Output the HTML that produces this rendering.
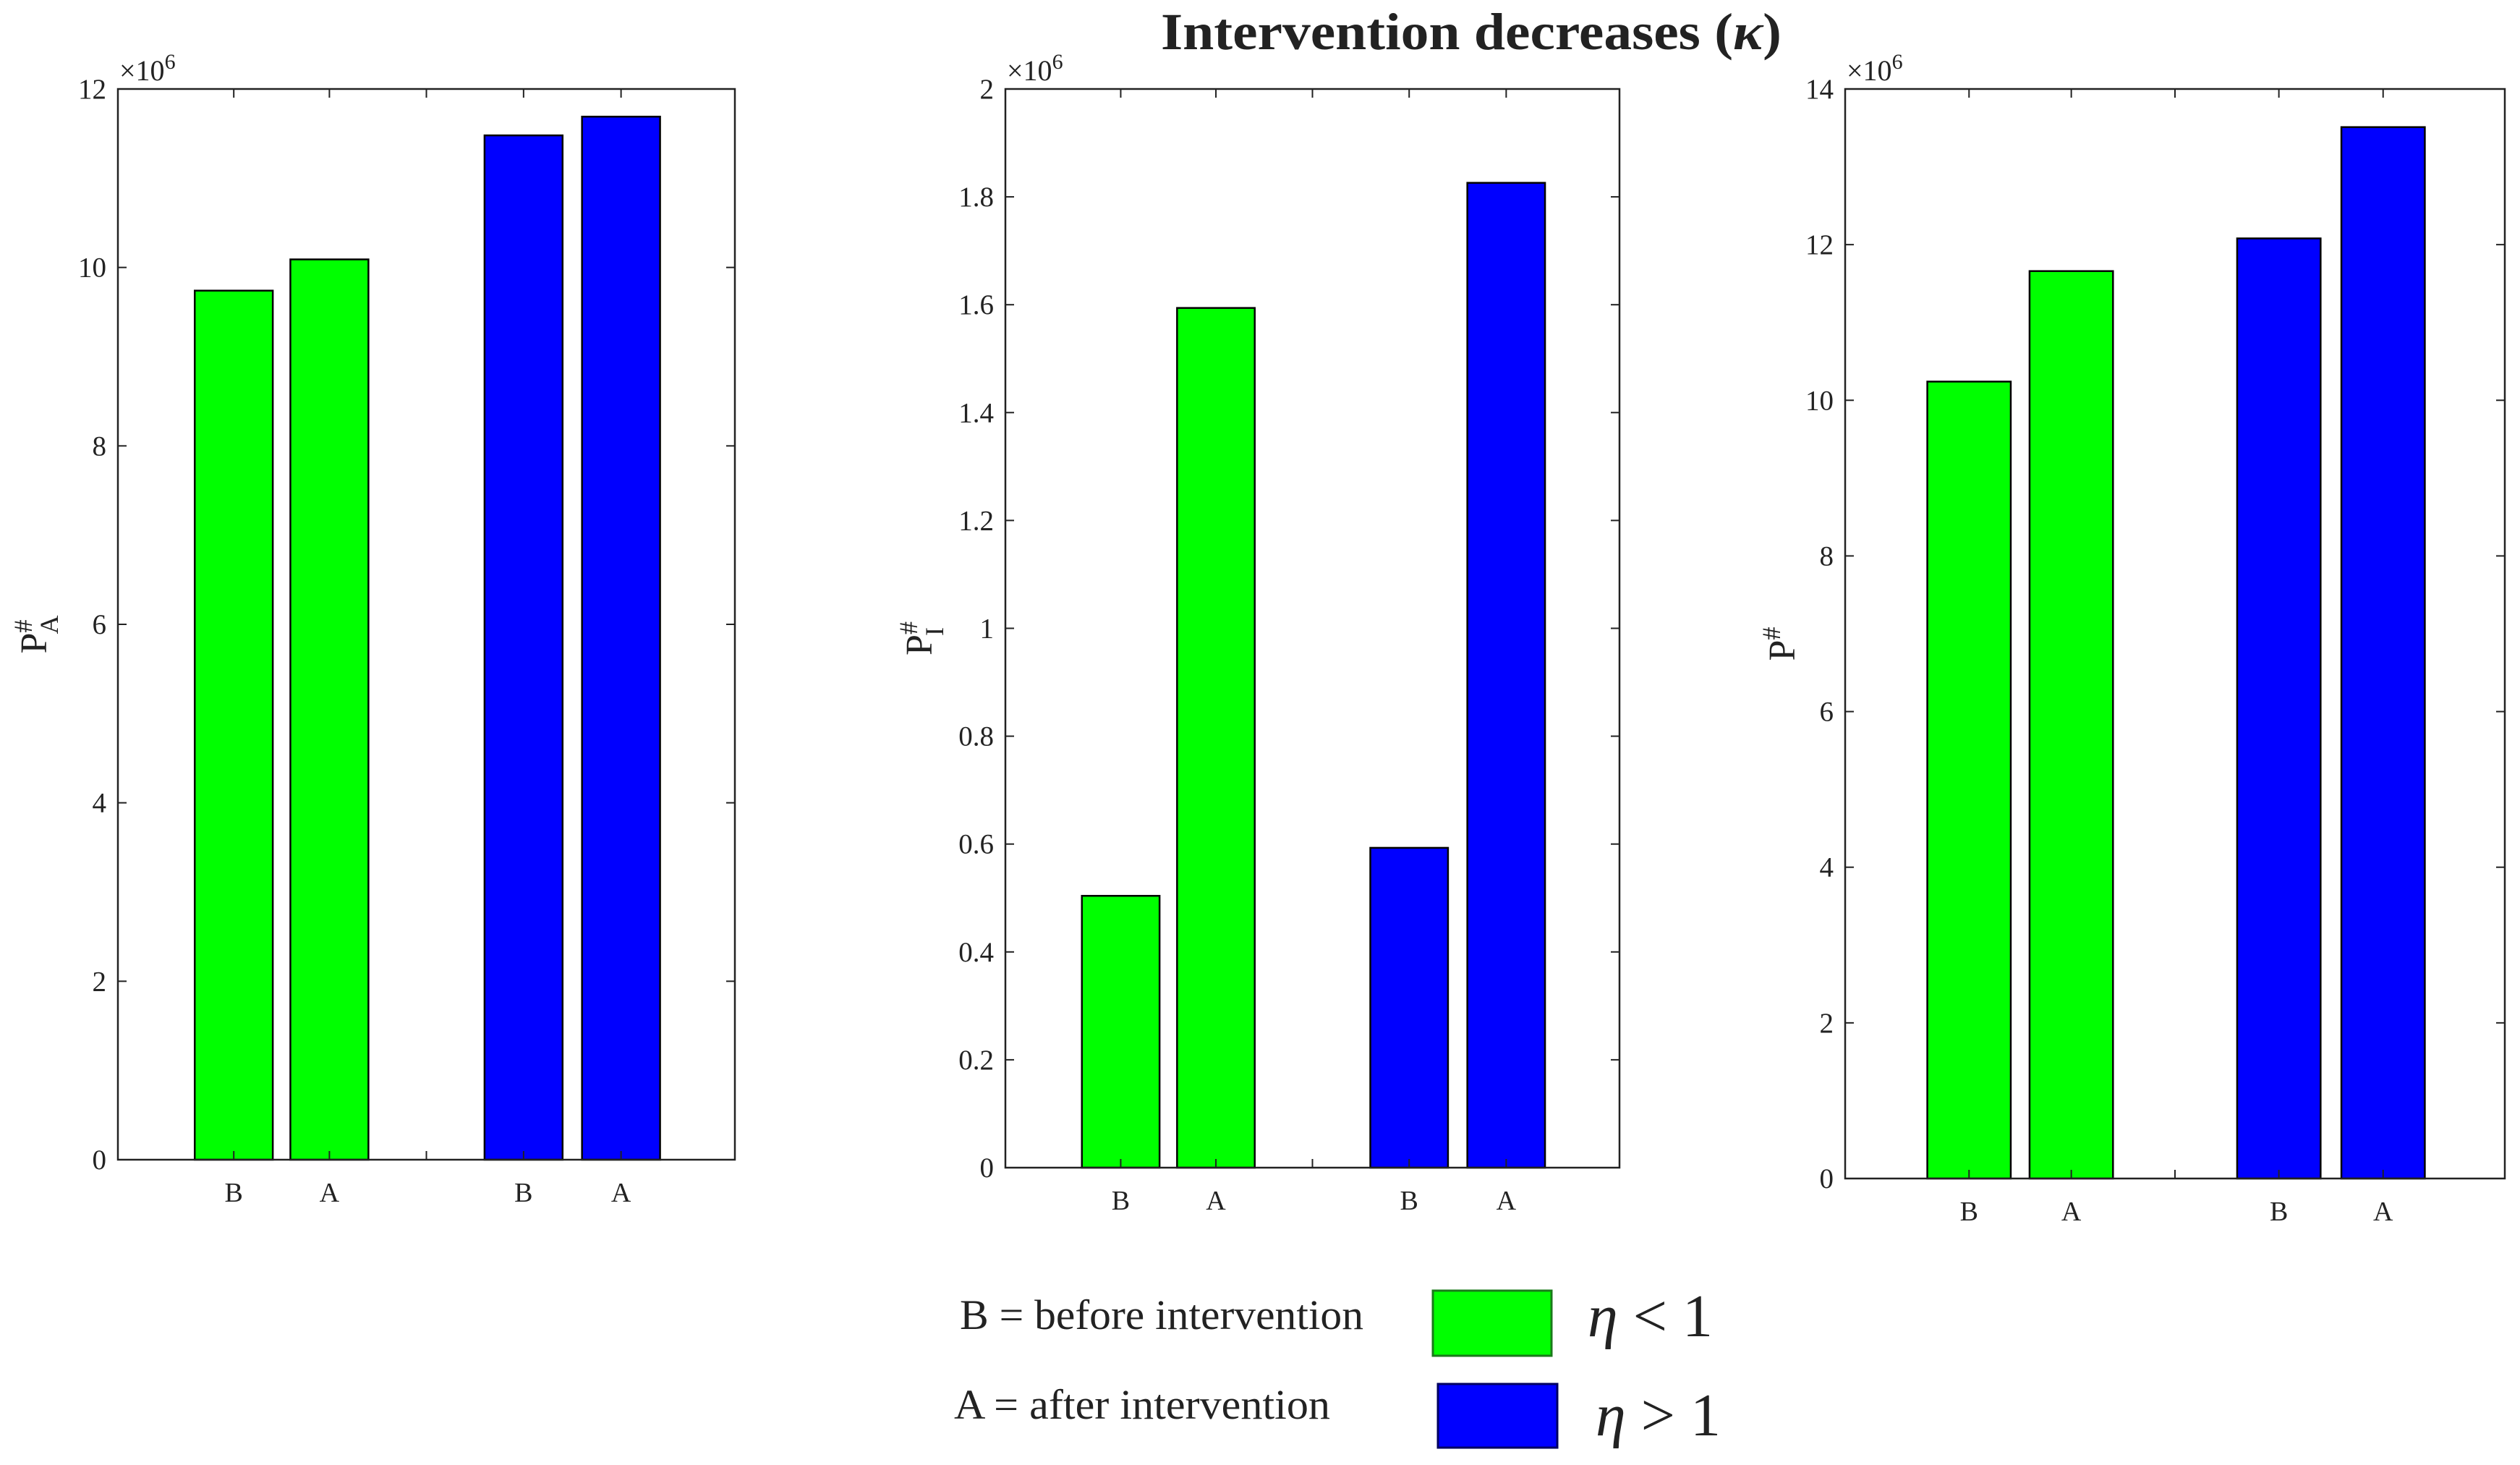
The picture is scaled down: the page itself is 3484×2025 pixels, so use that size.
<!DOCTYPE html>
<html><head><meta charset="utf-8"><style>
html,body{margin:0;padding:0;background:#fff;}
svg{display:block;}
text{font-family:"Liberation Serif",serif;fill:#222;}
</style></head><body>
<svg id="chart" width="3484" height="2025" viewBox="0 0 3484 2025" xmlns="http://www.w3.org/2000/svg">
<text x="1605" y="68" font-size="72" font-weight="bold" fill="#000" textLength="858" lengthAdjust="spacingAndGlyphs">Intervention decreases (<tspan font-style="italic">κ</tspan>)</text>
<g id="panels"></g>
<g>
<text x="1327" y="1837" font-size="58" fill="#000" textLength="558" lengthAdjust="spacingAndGlyphs">B = before intervention</text>
<text x="1319" y="1961" font-size="58" fill="#000" textLength="520" lengthAdjust="spacingAndGlyphs">A = after intervention</text>
<rect x="1981" y="1784" width="164" height="90" fill="#00ff00" stroke="#1a7a1a" stroke-width="3"/>
<rect x="1988" y="1913" width="165" height="88" fill="#0000ff" stroke="#000060" stroke-width="3"/>
<text x="2195" y="1847" font-size="84" fill="#000"><tspan font-style="italic">η</tspan> &lt; 1</text>
<text x="2206" y="1984" font-size="84" fill="#000"><tspan font-style="italic">η</tspan> &gt; 1</text>
</g>
</svg>
<script>
const categories = ["B","A","B","A"];
const p1Values = [9.74, 10.09, 11.48, 11.69];
const p2Values = [0.504, 1.594, 0.593, 1.826];
const p3Values = [10.24, 11.66, 12.08, 13.51];
const p1Ticks = [0,2,4,6,8,10,12];
const p2Ticks = [0,0.2,0.4,0.6,0.8,1,1.2,1.4,1.6,1.8,2];
const p3Ticks = [0,2,4,6,8,10,12,14];
const p2TickLabels = ["0","0.2","0.4","0.6","0.8","1","1.2","1.4","1.6","1.8","2"];
const barColors = ["#00ff00","#00ff00","#0000ff","#0000ff"];

const NS = "http://www.w3.org/2000/svg";
function mk(tag, attrs, parent){const e=document.createElementNS(NS,tag);for(const k in attrs)e.setAttribute(k,attrs[k]);parent.appendChild(e);return e;}
const slotFrac=[0.1878,0.3428,0.6575,0.8155];
const panelsG=document.getElementById('panels');
const panels=[
 {name:'panel-pa',l:163,r:1016,t:123,b:1603,max:12,ticks:p1Ticks,labels:p1Ticks.map(String),vals:p1Values,ylab:'P',sub:'A',ylx:38},
 {name:'panel-pi',l:1390,r:2239,t:123,b:1614,max:2,ticks:p2Ticks,labels:p2TickLabels,vals:p2Values,ylab:'P',sub:'I',ylx:1262},
 {name:'panel-p',l:2551,r:3463,t:123,b:1629,max:14,ticks:p3Ticks,labels:p3Ticks.map(String),vals:p3Values,ylab:'P',sub:'',ylx:2455}
];
panels.forEach(p=>{
 const g=mk('g',{},panelsG);
 
 
 const W=p.r-p.l;
 const y=v=>p.b-(v/p.max)*(p.b-p.t);
 const x=f=>p.l+f*W;
 const bw=0.1265*W;
 p.vals.forEach((v,i)=>{
  const r=mk('rect',{x:x(slotFrac[i])-bw/2,y:y(v),width:bw,height:y(0)-y(v),fill:barColors[i],stroke:'#000','stroke-width':2.5},g);
  
  
 });
 mk('rect',{x:p.l,y:p.t,width:W,height:p.b-p.t,fill:'none',stroke:'#222','stroke-width':2.5},g);
 p.ticks.forEach((t,i)=>{
  const yy=y(t);
  mk('line',{x1:p.l,x2:p.l+12,y1:yy,y2:yy,stroke:'#222','stroke-width':2},g);
  mk('line',{x1:p.r,x2:p.r-12,y1:yy,y2:yy,stroke:'#222','stroke-width':2},g);
  const tx=mk('text',{x:p.l-16,y:yy+13,'text-anchor':'end','font-size':39},g);
  tx.textContent=p.labels[i];
  
  
 });
 const xt=[slotFrac[0],slotFrac[1],0.5,slotFrac[2],slotFrac[3]];
 xt.forEach(f=>{
  mk('line',{x1:x(f),x2:x(f),y1:p.b,y2:p.b-12,stroke:'#222','stroke-width':2},g);
  mk('line',{x1:x(f),x2:x(f),y1:p.t,y2:p.t+12,stroke:'#222','stroke-width':2},g);
 });
 categories.forEach((c,i)=>{
  const tx=mk('text',{x:x(slotFrac[i]),y:p.b+58,'text-anchor':'middle','font-size':38},g);
  tx.textContent=c;
  
  
 });
 const ex=mk('text',{x:p.l+2,y:p.t-12,'font-size':40},g);
 ex.innerHTML='×10<tspan dy="-16" font-size="30">6</tspan>';
 
 
 const cy=(p.t+p.b)/2;
 const yl=mk('text',{x:0,y:0,'font-size':52,transform:`translate(${p.ylx+26},${cy+14}) rotate(-90)`,'text-anchor':'middle'},g);
 yl.innerHTML=p.ylab+'<tspan dy="-20" font-size="36">#</tspan>'+(p.sub?'<tspan dx="-20" dy="36" font-size="36">'+p.sub+'</tspan>':'');
 
 
});
</script>
</body></html>
